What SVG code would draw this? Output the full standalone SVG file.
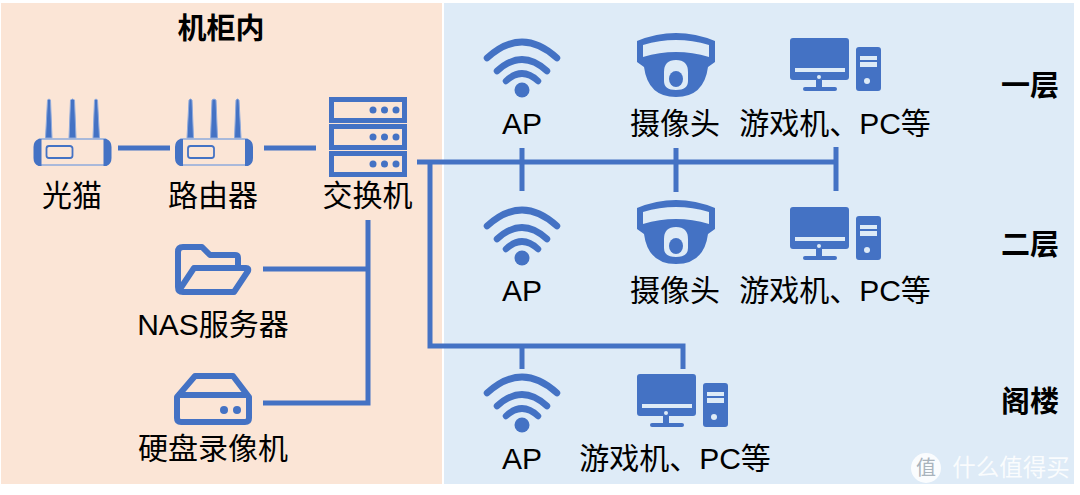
<svg xmlns="http://www.w3.org/2000/svg" xmlns:xlink="http://www.w3.org/1999/xlink" width="1080" height="495" viewBox="0 0 1080 495">
<style>
text{font-family:"Liberation Sans","Noto Sans CJK SC",sans-serif;font-size:30px;fill:#000;text-anchor:middle}
.b{font-weight:700;font-size:29px;font-family:"Noto Sans CJK SC",sans-serif}
.w{fill:#fff;opacity:.85}
.c{fill:none;stroke:#4472c4;stroke-width:5}
.i{fill:#4472c4}
.o{fill:none;stroke:#4472c4}
.l{fill:none;stroke:#8faadc}
</style>
<defs>
<g id="router">
<path class="i" stroke="#8faadc" stroke-width="1" d="M-25-39Q-23.500-41-22-39L-20.500-1H-27ZM-2-39Q0-41 2-39L3.500-1H-3.500ZM22-39Q23.500-41 25-39L27-1H20.500Z"/>
<rect class="l" x="-33" y="0" width="66" height="26" stroke-width="1.500"/>
<path class="i" d="M-31 0h-3q-5 2-5 8v11q0 6 5 8h3zM31 0h3q5 2 5 8v11q0 6-5 8h-3z"/>
<rect class="o" x="-26" y="7" width="26" height="12" rx="2.500" stroke-width="1.800"/>
</g>
<g id="wifi">
<path class="o" stroke-width="6.500" stroke-linecap="round" d="M-35-24Q0-56 35-24M-25-11Q0-34 25-11M-16-1Q0-16 16-1"/>
<circle class="i" cx="0" cy="8" r="7.500"/>
</g>
<g id="cam">
<path class="i" fill-rule="evenodd" d="M-39-27Q0-43 39-27V-6L32-1Q28 29 0 29Q-28 29-32-1L-39-6ZM-33-23V-11Q0-21 33-11V-23Q0-33-33-23ZM0-8Q-12-8-12 4V13Q-12 22 0 22Q12 22 12 13V4Q12-8 0-8Z"/>
<ellipse class="i" cx="0" cy="11" rx="7" ry="8"/>
</g>
<g id="pc">
<path class="i" fill-rule="evenodd" d="M-33-27H20q3 0 3 3V12q0 3-3 3H-33q-3 0-3-3V-24q0-3 3-3ZM-31 3v4H19V3Z"/>
<rect class="i" x="-10" y="15" width="6" height="8"/>
<rect class="i" x="-23" y="22" width="34" height="4" rx="2"/>
<path class="i" fill-rule="evenodd" d="M33-18H52q3 0 3 3V23q0 3-3 3H33q-3 0-3-3V-15q0-3 3-3ZM34-9v4H51v-4ZM34-3v5H51v-5Z"/>
<circle cx="41" cy="16" r="3" fill="#deebf7"/>
<circle cx="-7" cy="12" r="2" fill="#deebf7"/>
</g>
</defs>
<rect id="bg-left" x="1" y="3" width="441" height="481" fill="#fbe5d6"/>
<rect id="bg-right" x="444" y="3" width="630" height="481" fill="#deebf7"/>
<g id="connectors" class="c">
<path d="M118 148H170M264 148H316M417 162H836M522 148V191M676 148V192M836 147V191"/>
<path d="M368 220V403H263M263 269H368M430 162V346H683V369M522 346V369"/>
</g>
<g id="modem"><use xlink:href="#router" x="72.500" y="139"/><text x="72" y="206">光猫</text></g>
<g id="router1"><use xlink:href="#router" x="214" y="139"/><text x="213" y="206">路由器</text></g>
<g id="switch">
<path class="o" stroke-width="5" d="M331.500 99.500H404.500V120.500H331.500ZM331.500 126.500H404.500V147.500H331.500ZM331.500 153.500H404.500V174.500H331.500Z"/>
<g class="i"><circle cx="373" cy="110" r="3.500"/><circle cx="384.500" cy="110" r="3.500"/><circle cx="396" cy="110" r="3.500"/><circle cx="373" cy="137" r="3.500"/><circle cx="384.500" cy="137" r="3.500"/><circle cx="396" cy="137" r="3.500"/><circle cx="373" cy="164" r="3.500"/><circle cx="384.500" cy="164" r="3.500"/><circle cx="396" cy="164" r="3.500"/></g>
<text x="367.500" y="206">交换机</text>
</g>
<g id="nas">
<path class="o" stroke-width="6" stroke-linejoin="round" d="M238 268V258Q238 255 235 255H210L202 247H183Q178 247 178 252V287Q178 292 183 292H234L248 271Q249 268 246 268H194L180 289"/>
<text x="213" y="335">NAS服务器</text>
</g>
<g id="nvr">
<path class="o" stroke-width="6" stroke-linejoin="round" d="M177 397V418Q177 422 181 422H245Q249 422 249 418V397L233 376H195ZM177 395H249"/>
<circle class="i" cx="224" cy="410" r="4"/><circle class="i" cx="237" cy="410" r="4"/>
<text x="213" y="459">硬盘录像机</text>
</g>
<text id="title" class="b" x="221" y="39">机柜内</text>
<g id="ap1"><use xlink:href="#wifi" x="522" y="82"/><text x="522" y="134">AP</text></g>
<g id="cam1"><use xlink:href="#cam" x="676" y="68"/><text x="675" y="134">摄像头</text></g>
<g id="pc1"><use xlink:href="#pc" x="826" y="65"/><text x="835" y="134">游戏机、PC等</text></g>
<text id="f1" class="b" x="1030" y="96">一层</text>
<g id="ap2"><use xlink:href="#wifi" x="522" y="250"/><text x="522" y="301">AP</text></g>
<g id="cam2"><use xlink:href="#cam" x="676" y="235"/><text x="675" y="301">摄像头</text></g>
<g id="pc2"><use xlink:href="#pc" x="826" y="234"/><text x="835" y="301">游戏机、PC等</text></g>
<text id="f2" class="b" x="1030" y="255">二层</text>
<g id="ap3"><use xlink:href="#wifi" x="522" y="417"/><text x="522" y="469">AP</text></g>
<g id="pc3"><use xlink:href="#pc" x="673" y="401"/><text x="675" y="469">游戏机、PC等</text></g>
<text id="f3" class="b" x="1030" y="412">阁楼</text>
<g id="watermark">
<circle class="w" cx="926" cy="468" r="15"/>
<text x="926" y="475" style="font-size:20px;fill:#a9b3bc;font-family:'Noto Sans CJK SC',sans-serif">值</text>
<text class="w" x="1011" y="476" style="font-size:23.500px;font-family:'Noto Sans CJK SC',sans-serif">什么值得买</text>
</g>
</svg>
